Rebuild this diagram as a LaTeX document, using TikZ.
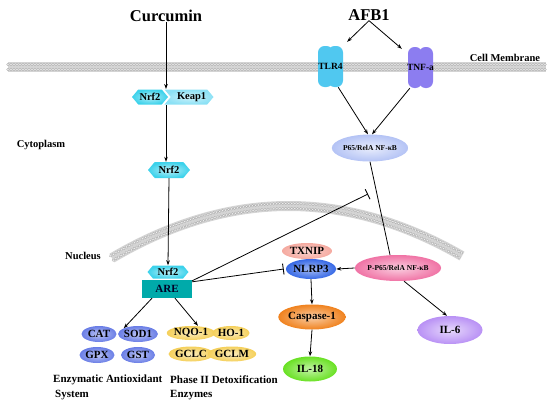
\documentclass[tikz,border=0pt]{standalone}
\usepackage{fontspec}
\setmainfont{Liberation Serif}
\usetikzlibrary{arrows.meta,shapes.geometric,shapes.symbols,decorations.markings}
\definecolor{nrfc}{RGB}{60,210,235}
\definecolor{keapc}{RGB}{140,225,245}
\definecolor{tlrc}{RGB}{80,200,240}
\definecolor{tnfc}{RGB}{140,125,240}
\definecolor{p65c}{RGB}{180,195,245}
\definecolor{pp65c}{RGB}{240,115,165}
\definecolor{txnipc}{RGB}{245,170,160}
\definecolor{nlrpc}{RGB}{55,105,230}
\definecolor{caspc}{RGB}{240,130,30}
\definecolor{il18c}{RGB}{105,225,35}
\definecolor{il6c}{RGB}{185,145,245}
\definecolor{arec}{RGB}{0,170,170}
\definecolor{enzc}{RGB}{105,125,230}
\definecolor{yelc}{RGB}{245,208,90}
\definecolor{memc}{RGB}{212,212,212}
\begin{document}
\begin{tikzpicture}[x=1pt,y=-1pt,
  lbl/.style={font=\bfseries\fontsize{10}{12}\selectfont, inner sep=0pt},
  big/.style={font=\bfseries\fontsize{16.5}{18}\selectfont, inner sep=0pt},
  ov/.style={ellipse, inner sep=0pt, font=\bfseries\fontsize{11}{12}\selectfont},
  hexa/.style={signal, signal to=west and east, signal pointer angle=100, inner sep=0pt,
     font=\bfseries\fontsize{10.5}{12}\selectfont},
  pill/.style={rounded corners=6.5pt},
  arr/.style={-{Stealth[length=5pt,width=3.6pt]}, line width=0.8pt},
  inh/.style={-{Bar[width=11pt,line width=0.9pt]}, line width=0.8pt},
  bilayer/.style={line width=10pt, draw=memc,
     postaction={decorate, decoration={markings,
       mark=between positions 0 and 1 step 3pt with {
         \draw[gray!65, fill=white!88!gray, line width=0.35pt] (0pt,2.5pt) circle (1.35pt);
         \draw[gray!65, fill=white!88!gray, line width=0.35pt] (0pt,-2.5pt) circle (1.35pt);}}}}
]
\useasboundingbox (0,0) rectangle (550,407);

% membranes
\draw[bilayer] (8,67) -- (546,67);
\draw[bilayer] (112,258) .. controls (228.7,189.3) and (345.3,188.7) .. (462,256);

% receptors
\fill[tlrc, pill] (318,46) rectangle (333,87);
\fill[tlrc, pill] (328,46) rectangle (343,87);
\fill[tnfc, pill] (408,47) rectangle (422,88);
\fill[tnfc, pill] (419,47) rectangle (433,88);
\node[lbl, font=\bfseries\fontsize{9.5}{10}\selectfont, minimum width=25pt, minimum height=41pt] (tlr4) at (330.5,66.5) {TLR4};
\node[lbl, font=\bfseries\fontsize{9.5}{10}\selectfont, minimum width=25pt, minimum height=41pt] (tnf) at (420.5,67.5) {TNF-a};

% labels
\node[big] (curc) at (166,16) {Curcumin};
\node[big] (afb) at (369,15) {AFB1};
\node[lbl, font=\bfseries\fontsize{10.5}{12}\selectfont] (cm) at (505,58) {Cell Membrane};
\node[lbl, font=\bfseries\fontsize{10.5}{12}\selectfont] (cyto) at (41,145) {Cytoplasm};
\node[lbl, font=\bfseries\fontsize{10.5}{12}\selectfont] (nuc) at (83,256) {Nucleus};
\node[lbl, font=\bfseries\fontsize{11}{12}\selectfont, anchor=west] (ea1) at (53,380) {Enzymatic Antioxidant};
\node[lbl, font=\bfseries\fontsize{11}{12}\selectfont, anchor=west] (ea2) at (55,395) {System};
\node[lbl, font=\bfseries\fontsize{11}{12}\selectfont, anchor=west] (ph1) at (170,380) {Phase II Detoxification};
\node[lbl, font=\bfseries\fontsize{11}{12}\selectfont, anchor=west] (ph2) at (170,395) {Enzymes};

% Nrf2 / Keap1
\node[hexa, signal to=east, signal from=west, minimum width=49pt, minimum height=15pt,
      inner color=keapc!45!white, outer color=keapc, text width=24pt, align=right] (keap) at (189,97) {Keap1};
\node[hexa, minimum width=36pt, minimum height=15pt, inner color=nrfc!40!white, outer color=nrfc] (nrfa) at (150,97) {Nrf2};
\coordinate (jtop) at (166,89);
\coordinate (jbot) at (166,105);
\node[hexa, minimum width=42pt, minimum height=16pt, inner color=nrfc!35!white, outer color=nrfc] (nrfc) at (169,170) {Nrf2};
\node[hexa, minimum width=41pt, minimum height=13pt, inner color=nrfc!35!white, outer color=nrfc] (nrfn) at (168,272) {Nrf2};
\node[rectangle, fill=arec, minimum width=50pt, minimum height=18pt, inner sep=0pt,
      font=\bfseries\fontsize{11}{12}\selectfont, text=black!85!blue] (are) at (167,289) {ARE};

% NF-kB side
\node[ov, font=\bfseries\fontsize{7.5}{9}\selectfont, minimum width=65pt, minimum height=27pt,
      inner color=p65c!30!white, outer color=p65c] (p65) at (370,148) {P65/RelA NF-κB};
\node[ov, font=\bfseries\fontsize{7.5}{9}\selectfont, minimum width=68pt, minimum height=26pt,
      inner color=pp65c!35!white, outer color=pp65c] (pp65) at (398,268) {P-P65/RelA NF-κB};
\node[ov, minimum width=50pt, minimum height=16pt, inner color=txnipc!50!white, outer color=txnipc] (txnip) at (307,251) {TXNIP};
\node[ov, minimum width=44pt, minimum height=20pt, inner color=nlrpc!45!white, outer color=nlrpc] (nlrp) at (311,269) {NLRP3};
\node[ov, minimum width=50pt, minimum height=25pt, inner color=caspc!40!white, outer color=caspc] (casp) at (312,317) {Caspase-1};
\node[ov, minimum width=54pt, minimum height=25pt, inner color=il18c!40!white, outer color=il18c] (il18) at (310,369) {IL-18};
\node[ov, minimum width=65pt, minimum height=28pt, inner color=il6c!35!white, outer color=il6c] (il6) at (450,330) {IL-6};

% enzymes
\node[ov, minimum width=35pt, minimum height=16pt, inner color=enzc!45!white, outer color=enzc] (cat) at (99,334) {CAT};
\node[ov, minimum width=33pt, minimum height=16pt, inner color=enzc!45!white, outer color=enzc] (sod) at (138,334) {SOD1};
\node[ov, minimum width=35pt, minimum height=16pt, inner color=enzc!45!white, outer color=enzc] (gpx) at (97,355) {GPX};
\node[ov, minimum width=34pt, minimum height=16pt, inner color=enzc!45!white, outer color=enzc] (gst) at (138,355) {GST};
\node[ov, minimum width=36pt, minimum height=14pt, inner color=yelc!40!white, outer color=yelc] (nqo) at (191,333) {NQO-1};
\node[ov, minimum width=35pt, minimum height=14pt, inner color=yelc!40!white, outer color=yelc] (ho) at (231,333) {HO-1};
\node[ov, minimum width=36pt, minimum height=15pt, inner color=yelc!40!white, outer color=yelc] (gclc) at (191,354) {GCLC};
\node[ov, minimum width=37pt, minimum height=15pt, inner color=yelc!40!white, outer color=yelc] (gclm) at (232,354) {GCLM};

% connectors
\draw[arr] (curc.south) -- (jtop);
\draw[arr] (jbot) -- (nrfc.north -| jbot);
\draw[arr] (nrfc.south) -- (nrfn.north);
\draw[arr] (afb.south) -- ([shift={(4pt,4pt)}]tlr4.north east);
\draw[arr] (afb.south) -- ([shift={(-5pt,-2pt)}]tnf.north west);
\draw[arr] ([xshift=-5pt]tlr4.south east) -- ([xshift=-2pt]p65.north);
\draw[arr] ([xshift=3pt]tnf.south west) -- ([xshift=2pt]p65.north);
\draw[line width=0.8pt] (p65.south) -- ([xshift=-8pt]pp65.north);
\coordinate (inhend) at (368,194);
\draw[inh] ([yshift=-1pt]are.north east) -- (inhend);
\draw[inh] ([yshift=-2pt]are.north east) -- ([xshift=-2pt]nlrp.west);
\draw[arr] (pp65.west) -- (nlrp.east);
\draw[arr] (nlrp.south) -- (casp.north);
\draw[arr] (casp.south) -- (il18.north);
\draw[arr] ([xshift=6pt]pp65.south) -- ([xshift=-3pt]il6.north);
\draw[arr] ([xshift=-15pt]are.south) -- (sod.north west);
\draw[arr] ([xshift=8pt]are.south) -- ([xshift=7pt]nqo.north);
\end{tikzpicture}
\end{document}
